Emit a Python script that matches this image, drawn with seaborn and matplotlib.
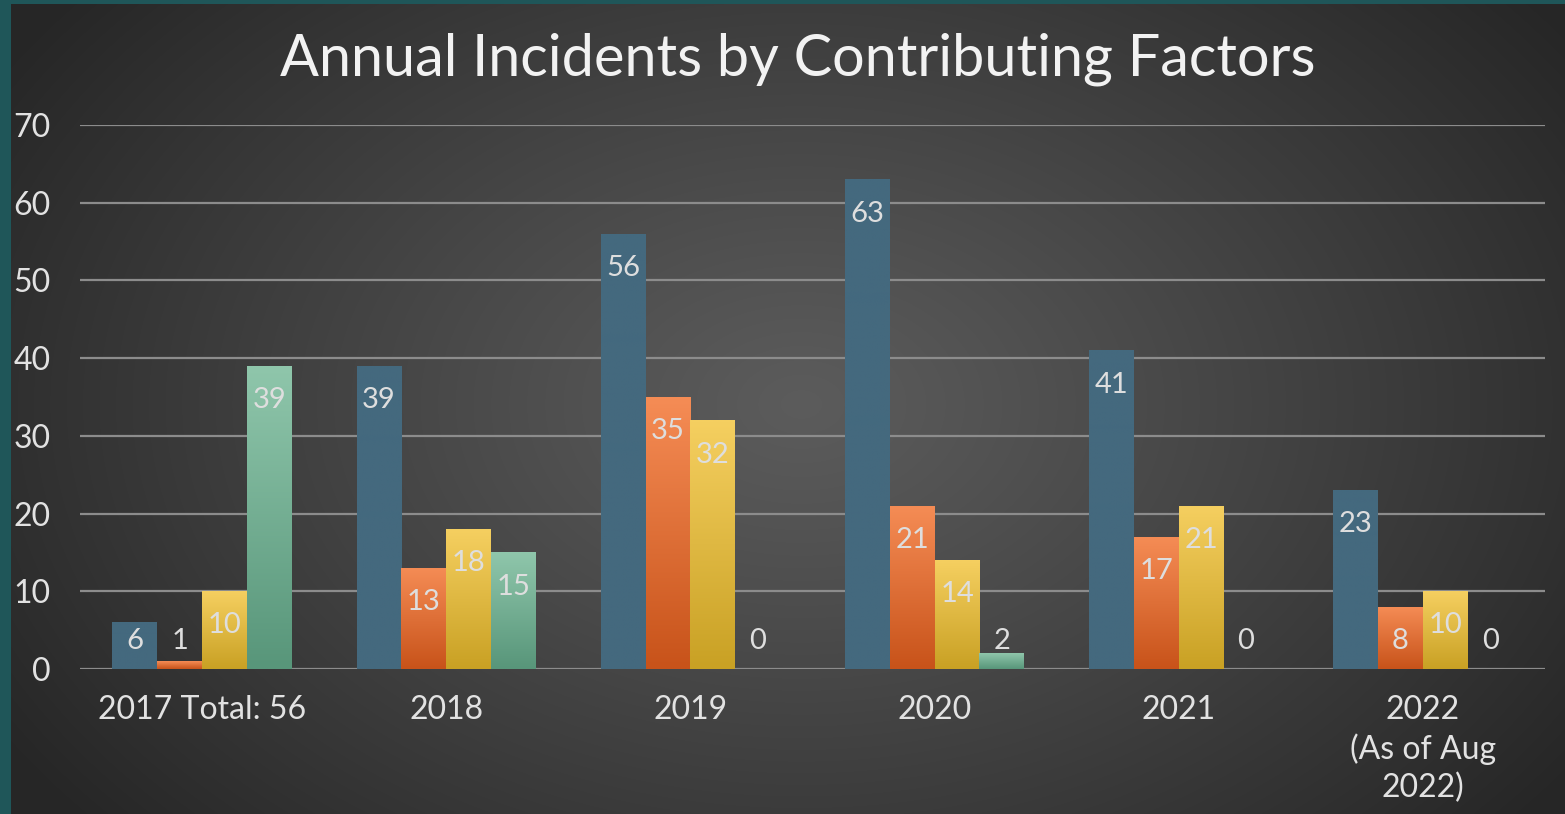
import numpy as np
import pandas as pd
import seaborn as sns
import matplotlib.pyplot as plt
from matplotlib.patches import Rectangle

# chart data
years = ['2017 Total: 56', '2018', '2019', '2020', '2021', '2022\n(As of Aug\n2022)']
factors = ['A', 'B', 'C', 'D']
series_a = [6, 39, 56, 63, 41, 23]
series_b = [1, 13, 35, 21, 17, 8]
series_c = [10, 18, 32, 14, 21, 10]
series_d = [39, 15, 0, 2, 0, 0]

df = pd.DataFrame({
    'year': years * 4,
    'factor': np.repeat(factors, len(years)),
    'count': series_a + series_b + series_c + series_d,
})

# gradient colours (top, bottom) per factor
grad = {
    'A': ('#44697e', '#44697e'),
    'B': ('#f58c55', '#c8531a'),
    'C': ('#f5cf60', '#c9a124'),
    'D': ('#8fc6ab', '#58967a'),
}
palette = {k: v[1] for k, v in grad.items()}

sns.set_style('dark')
plt.rcParams['font.family'] = ['Lato', 'DejaVu Sans']
txt = '#e2e2e2'

fig = plt.figure(figsize=(15.65, 8.14), dpi=100)
fig.patch.set_facecolor('#1f5659')

# radial background
bg = fig.add_axes([11 / 1565, 0, 1 - 11 / 1565, 1 - 4 / 814])
bg.set_axis_off()
W, H = 1554, 810
yy, xx = np.mgrid[0:H, 0:W]
d = np.sqrt(((xx - 790) / 900.0) ** 2 + ((yy - 400) / 620.0) ** 2)
g = np.clip(0.36 - 0.2 * d ** 1.1, 0.15, 0.4)
bg.imshow(np.dstack([g, g, g]), aspect='auto', extent=(0, 1, 0, 1))
bg.set_xlim(0, 1)
bg.set_ylim(0, 1)

ax = fig.add_axes([80 / 1565, 145 / 814, 1465 / 1565, 544 / 814])
ax.patch.set_alpha(0)
sns.barplot(data=df, x='year', y='count', hue='factor', hue_order=factors,
            palette=palette, width=0.735, legend=False, ax=ax, saturation=1,
            linewidth=0, zorder=3)

ax.set_xlim(-0.5, 5.5)
ax.set_ylim(0, 70)
ax.set_yticks(range(0, 71, 10))
ax.yaxis.grid(True, color='#8c8c8c', linewidth=1.6, zorder=0)
ax.xaxis.grid(False)
for s in ax.spines.values():
    s.set_visible(False)
ax.set_xlabel('')
ax.set_ylabel('')
ax.tick_params(axis='y', length=0, pad=21, labelsize=23, labelcolor=txt)
ax.tick_params(axis='x', length=0, pad=19, labelsize=23, labelcolor=txt)
for t in ax.get_yticklabels():
    t.set_horizontalalignment('right')
for t in ax.get_xticklabels():
    t.set_linespacing(1.32)

# gradient fills + labels
for fac, cont in zip(factors, ax.containers):
    top, bot = grad[fac]
    cmap_arr = np.array([plt.matplotlib.colors.to_rgb(top),
                         plt.matplotlib.colors.to_rgb(bot)])
    ramp = np.linspace(0, 1, 64)[:, None]
    img = cmap_arr[0] * (1 - ramp[..., None]) + cmap_arr[1] * ramp[..., None]
    for bar in cont:
        x, w, h = bar.get_x(), bar.get_width(), bar.get_height()
        if h > 0:
            im = ax.imshow(img, extent=(x, x + w, 0, h), aspect='auto',
                           zorder=3.5, interpolation='bilinear')
            im.set_clip_path(Rectangle((x, 0), w, h, transform=ax.transData))
        ax.text(x + w / 2, max(h - 4.4, 3.6), f'{int(h)}', ha='center',
                va='center', fontsize=21, color='#dedede', zorder=5)

ax.set_xlim(-0.5, 5.5)
ax.set_ylim(0, 70)

fig.text(0.51, 1 - 59 / 814, 'Annual Incidents by Contributing Factors',
         ha='center', va='center', fontsize=41.5, color='#f2f2f2')

fig.savefig('out.png', dpi=100)
